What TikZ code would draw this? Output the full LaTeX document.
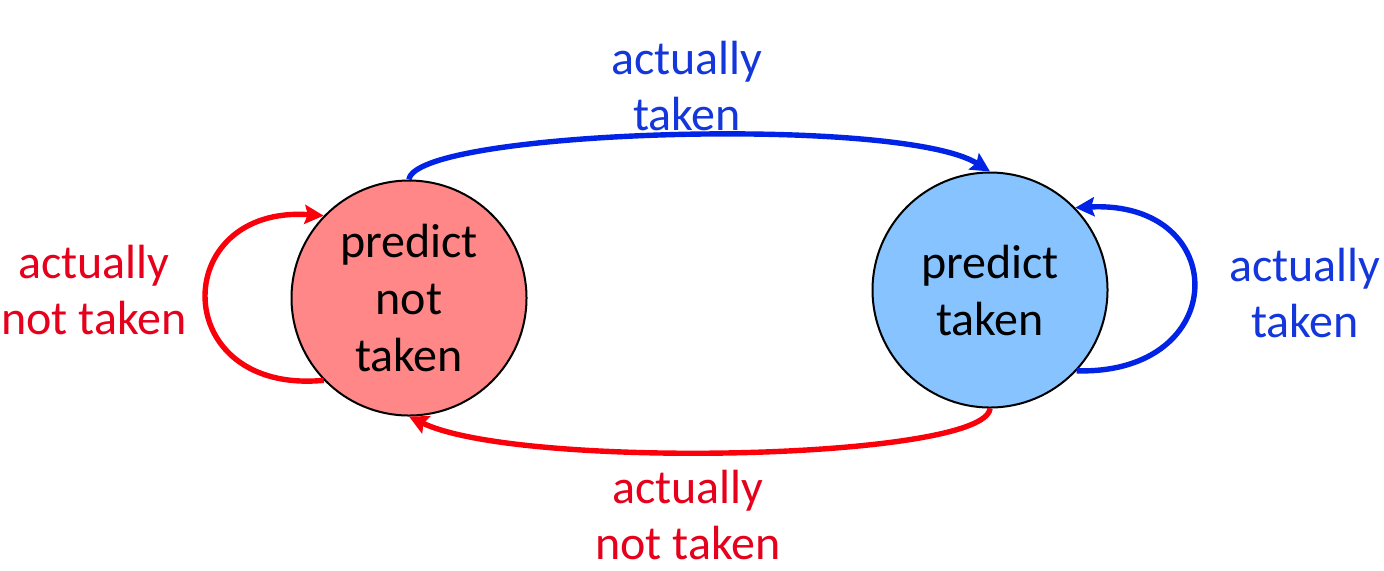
\documentclass[tikz,border=0pt]{standalone}
\usepackage{fontspec}
\setmainfont{Carlito}
\usetikzlibrary{arrows.meta}
\definecolor{arcred}{RGB}{250,0,10}
\definecolor{txtred}{RGB}{230,0,28}
\definecolor{arcblue}{RGB}{0,35,230}
\definecolor{txtblue}{RGB}{20,55,220}
\definecolor{fillred}{RGB}{255,135,135}
\definecolor{fillblue}{RGB}{135,196,255}
\tikzset{
  statenode/.style={circle, draw=black, line width=1pt, inner sep=0pt,
    minimum size=117.5pt, align=center,
    font=\fontsize{24}{28.5}\selectfont},
  arclbl/.style={align=center, inner sep=0pt,
    font=\fontsize{24}{28}\selectfont},
  arcline/.style={line width=2.7pt,
    -{Stealth[length=9.5pt,width=9.5pt,inset=1.5pt]}}
}

\begin{document}
\begin{tikzpicture}[x=0.5pt,y=-0.5pt]
    \useasboundingbox (0,0) rectangle (1384,570);

    % states
    \node[statenode, fill=fillred] (pnt) at (409,298) {predict\\not\\taken};
    \node[statenode, fill=fillblue] (pt) at (990,290) {predict\\taken};

    % transitions between the states
    \draw[arcline, arcblue] (pnt.north) .. controls (415,130) and (900,115) .. (pt.north);
    \draw[arcline, arcred] (pt.south) .. controls (985,460) and (520,470) .. (pnt.south);

    % self loops
    \draw[arcline, arcred] (pnt.224) .. controls (168,395) and (168,205) .. (pnt.136);
    \draw[arcline, arcblue] (pt.-43) .. controls (1232,375) and (1232,200) .. (pt.44);

    % labels
    \node[arclbl, text=txtblue] (lbltop) at (687,86) {actually\\taken};
    \node[arclbl, text=txtred] (lblbot) at (688,515) {actually\\not taken};
    \node[arclbl, text=txtred] (lblleft) at (94,290) {actually\\not taken};
    \node[arclbl, text=txtblue] (lblright) at (1305,293) {actually\\taken};
\end{tikzpicture}
\end{document}
